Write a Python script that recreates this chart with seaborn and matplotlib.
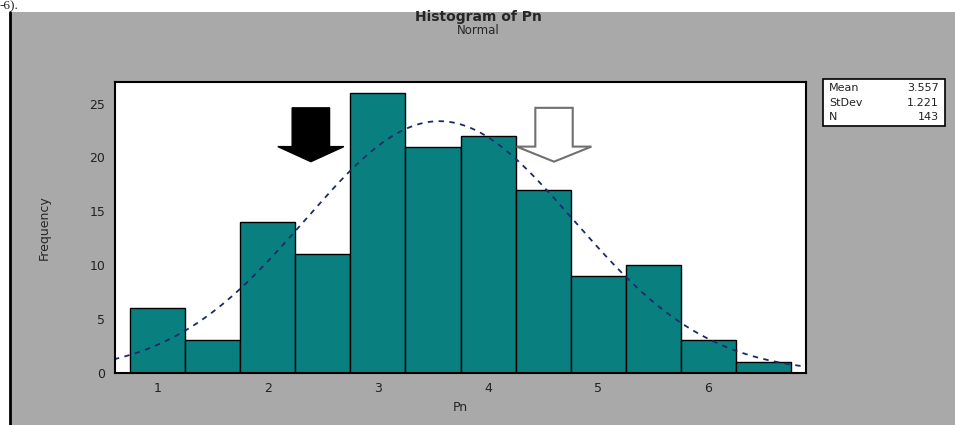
import numpy as np
import pandas as pd
import matplotlib
matplotlib.use("Agg")
import matplotlib.pyplot as plt
from matplotlib.patches import Rectangle, FancyArrow
from matplotlib.lines import Line2D
import seaborn as sns

# bin midpoints and counts
midpoints = [1.0, 1.5, 2.0, 2.5, 3.0, 3.5, 4.0, 4.5, 5.0, 5.5, 6.0, 6.5]
counts = [6, 3, 14, 11, 26, 21, 22, 17, 9, 10, 3, 1]
bin_width = 0.5
mean_pn = 3.557
sd_pn = 1.221
n_pn = 143
x_ticks = [1, 2, 3, 4, 5, 6]
y_ticks = [0, 5, 10, 15, 20, 25]

df = pd.DataFrame({"Pn": midpoints, "count": counts})
edges = [m - bin_width / 2 for m in midpoints] + [midpoints[-1] + bin_width / 2]

sns.set_style("white")
fig = plt.figure(figsize=(9.55, 4.25), dpi=100)
fig.patch.set_facecolor("white")

# gray minitab panel
W, H = 955, 425
fig.patches.append(Rectangle((10 / W, 0), 945 / W, 413 / H, transform=fig.transFigure,
                             facecolor="#a9a9a9", edgecolor="none", zorder=-5))
fig.lines.append(Line2D([10 / W, 10 / W], [0, 413 / H], transform=fig.transFigure,
                        color="black", lw=2, zorder=-4))
fig.text(0.0, 1.0, "-6).", fontsize=9.5, family="Liberation Serif", va="top", ha="left")

ax = fig.add_axes([115 / W, (H - 372.7) / H, (806 - 115) / W, (372.7 - 82) / H])
ax.set_facecolor("white")

sns.histplot(data=df, x="Pn", weights="count", bins=edges, ax=ax,
             color="#0a7f80", alpha=1, edgecolor="black", linewidth=1)

xs = np.linspace(0.6, 6.9, 300)
curve = n_pn * bin_width * np.exp(-0.5 * ((xs - mean_pn) / sd_pn) ** 2) / (sd_pn * np.sqrt(2 * np.pi))
sns.lineplot(x=xs, y=curve, ax=ax, color="#1c2a6a", lw=1.3, linestyle=(0, (3, 3)))

ax.set_xlim(0.61, 6.89)
ax.set_ylim(0, 27)
ax.set_xticks(x_ticks)
ax.set_yticks(y_ticks)
ax.tick_params(axis="both", direction="out", length=4, width=1.2, labelsize=9,
               colors="black", labelcolor="#222222", pad=3)
for s in ax.spines.values():
    s.set_color("black")
    s.set_linewidth(1.5)
ax.set_xlabel("Pn", fontsize=9, labelpad=4)
ax.set_ylabel("Frequency", fontsize=9, labelpad=28)

# annotation arrows
ax.add_patch(FancyArrow(2.39, 24.6, 0, -5.0, width=0.34, head_width=0.6, head_length=1.4,
                        length_includes_head=True, facecolor="black", edgecolor="black", zorder=5))
ax.add_patch(FancyArrow(4.6, 24.6, 0, -5.0, width=0.34, head_width=0.68, head_length=1.4,
                        length_includes_head=True, facecolor="white", edgecolor="#707070",
                        lw=1.5, zorder=5))

fig.text(478 / W, 1 - 17 / H, "Histogram of Pn", ha="center", va="center",
         fontsize=10, fontweight="bold")
fig.text(478 / W, 1 - 31 / H, "Normal", ha="center", va="center", fontsize=8.5)

# stats box
bx0, bx1, by0, by1 = 823 / W, 945 / W, 1 - 126 / H, 1 - 79 / H
fig.patches.append(Rectangle((bx0, by0), bx1 - bx0, by1 - by0, transform=fig.transFigure,
                             facecolor="white", edgecolor="black", lw=1.2, zorder=3))
rows = [("Mean", f"{mean_pn:.3f}"), ("StDev", f"{sd_pn:.3f}"), ("N", f"{n_pn}")]
for i, (k, v) in enumerate(rows):
    yy = 1 - (88 + i * 14.5) / H
    fig.text(bx0 + 6 / W, yy, k, fontsize=8, va="center", ha="left", color="#222222", zorder=4)
    fig.text(bx1 - 6 / W, yy, v, fontsize=8, va="center", ha="right", color="#222222", zorder=4)

fig.savefig("out.png", dpi=100)
